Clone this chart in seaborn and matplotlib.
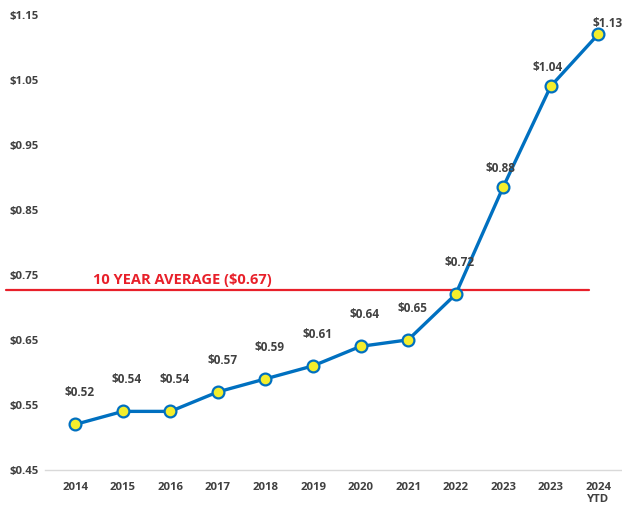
import numpy as np
import pandas as pd
import matplotlib
matplotlib.use("Agg")
import matplotlib.pyplot as plt
import seaborn as sns

categories = ["2014", "2015", "2016", "2017", "2018", "2019", "2020", "2021",
              "2022", "2023", "2023", "2024\nYTD"]
values = [0.52, 0.54, 0.54, 0.57, 0.59, 0.61, 0.64, 0.65, 0.72, 0.885, 1.04, 1.12]
value_labels = ["$0.52", "$0.54", "$0.54", "$0.57", "$0.59", "$0.61", "$0.64",
                "$0.65", "$0.72", "$0.88", "$1.04", "$1.13"]
avg_line_value = 0.727
avg_label = "10 YEAR AVERAGE ($0.67)"
yticks = [0.45, 0.55, 0.65, 0.75, 0.85, 0.95, 1.05, 1.15]

sns.set_style("white")
plt.rcParams["font.family"] = ["Open Sans", "DejaVu Sans"]

df = pd.DataFrame({"pos": np.arange(len(values)), "value": values})

fig = plt.figure(figsize=(6.22, 5.08), dpi=100)
ax = fig.add_axes([0.073, 0.075, 0.927, 0.896])

sns.lineplot(data=df, x="pos", y="value", ax=ax, color="#0070C0", linewidth=2.4,
             marker="o", markersize=8.5, markerfacecolor="#F4EE2C",
             markeredgecolor="#0070C0", markeredgewidth=1.6, zorder=3)

n = len(values)
for i, (v, lab) in enumerate(zip(values, value_labels)):
    if i == n - 1:
        off = (7, 3)
    elif i >= n - 3:
        off = (-2, 9)
    else:
        off = (3, 18)
    ax.annotate(lab, (i, v), xytext=off, textcoords="offset points",
                ha="center", va="bottom", fontsize=8.5, fontweight="bold",
                color="#404040", annotation_clip=False)

ax.plot([-0.068, 0.943], [avg_line_value, avg_line_value], color="#E8202A",
        linewidth=1.6, transform=ax.get_yaxis_transform(), clip_on=False, zorder=2)
ax.text(0.38, avg_line_value + 0.005, avg_label, color="#E8202A", fontsize=10.5,
        fontweight="bold", ha="left", va="bottom")

ax.set_xlim(-0.63, 11.5)
ax.set_ylim(0.45, 1.15)
ax.set_yticks(yticks)
ax.set_yticklabels([f"${t:.2f}" for t in yticks])
ax.set_xticks(np.arange(len(categories)))
ax.set_xticklabels(categories, linespacing=1.1)
ax.set_xlabel("")
ax.set_ylabel("")
for lbl in ax.get_xticklabels() + ax.get_yticklabels():
    lbl.set_fontweight("bold")
    lbl.set_fontsize(8.2)
    lbl.set_color("#404040")
ax.tick_params(axis="both", length=0)
ax.tick_params(axis="x", pad=9)
ax.tick_params(axis="y", pad=5)
for s in ["top", "right", "left"]:
    ax.spines[s].set_visible(False)
ax.spines["bottom"].set_color("#D9D9D9")
ax.spines["bottom"].set_linewidth(1)
ax.grid(False)

fig.savefig("out.png", dpi=100)
